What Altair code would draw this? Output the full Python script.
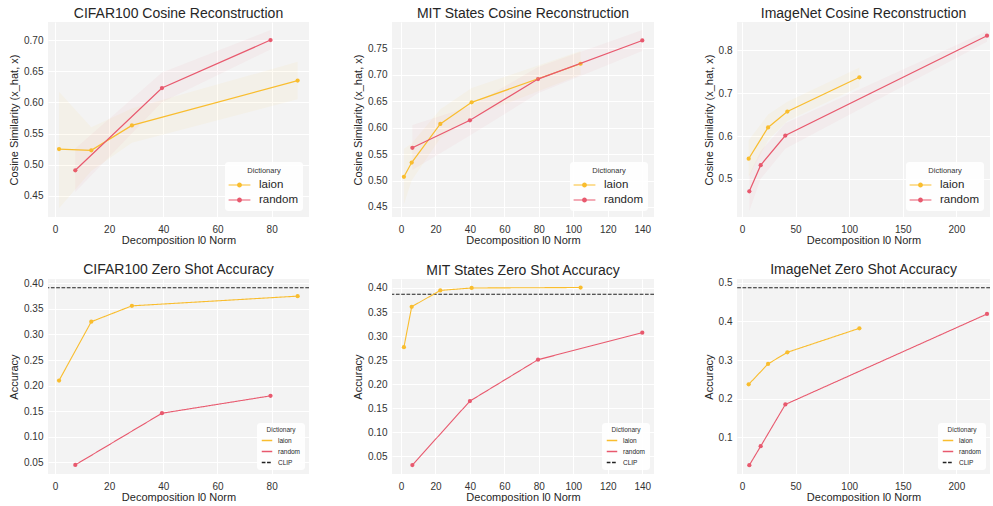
import altair as alt
import pandas as pd

LAION = "#F9BD2E"
RANDOM = "#E8596E"
CLIP = "#222222"
BG = "#F3F3F3"
FONT = "Liberation Sans"

# ---- CIFAR100 ----
cifar_laion_l0 = [1.5, 13.4, 28.4, 89.6]
cifar_laion_cos = [0.525, 0.523, 0.563, 0.635]
cifar_laion_cos_lo = [0.430, 0.490, 0.535, 0.605]
cifar_laion_cos_hi = [0.617, 0.560, 0.590, 0.665]
cifar_laion_acc = [0.210, 0.325, 0.356, 0.375]

cifar_random_l0 = [7.5, 39.5, 79.6]
cifar_random_cos = [0.491, 0.623, 0.700]
cifar_random_cos_lo = [0.456, 0.600, 0.685]
cifar_random_cos_hi = [0.526, 0.648, 0.716]
cifar_random_acc = [0.045, 0.146, 0.180]
cifar_clip_acc = 0.3915

# ---- MIT States ----
mit_laion_l0 = [1.7, 6.2, 22.8, 41.0, 104.2]
mit_laion_cos = [0.507, 0.534, 0.607, 0.648, 0.721]
mit_laion_cos_lo = [0.455, 0.500, 0.580, 0.620, 0.700]
mit_laion_cos_hi = [0.560, 0.570, 0.635, 0.675, 0.745]
mit_laion_acc = [0.277, 0.361, 0.395, 0.400, 0.401]

mit_random_l0 = [6.6, 40.0, 79.5, 140.0]
mit_random_cos = [0.562, 0.614, 0.692, 0.765]
mit_random_cos_lo = [0.520, 0.585, 0.665, 0.745]
mit_random_cos_hi = [0.605, 0.640, 0.715, 0.785]
mit_random_acc = [0.032, 0.165, 0.251, 0.307]
mit_clip_acc = 0.387

# ---- ImageNet ----
imnet_laion_l0 = [6.2, 24.3, 42.3, 109.5]
imnet_laion_cos = [0.547, 0.620, 0.657, 0.737]
imnet_laion_cos_lo = [0.505, 0.590, 0.635, 0.715]
imnet_laion_cos_hi = [0.590, 0.650, 0.680, 0.760]
imnet_laion_acc = [0.237, 0.290, 0.320, 0.382]

imnet_random_l0 = [6.8, 17.4, 40.4, 228.6]
imnet_random_cos = [0.471, 0.532, 0.601, 0.834]
imnet_random_cos_lo = [0.425, 0.500, 0.570, 0.820]
imnet_random_cos_hi = [0.510, 0.565, 0.630, 0.845]
imnet_random_acc = [0.028, 0.077, 0.185, 0.419]
imnet_clip_acc = 0.487

X_TITLE = "Decomposition l0 Norm"

# custom legend glyph: a short line with a dot in the middle (both filled shapes)
LINE_DOT = ("M-1.2,-0.06H1.2V0.06H-1.2Z "
            "M-0.27,0A0.27,0.27 0 1,1 0.27,0A0.27,0.27 0 1,1 -0.27,0Z")


def series_frame(name, l0, val, lo=None, hi=None):
    d = {"Dictionary": name, "l0": l0, "v": val}
    if lo is not None:
        d["lo"] = lo
        d["hi"] = hi
    return pd.DataFrame(d)


def title(text):
    return alt.TitleParams(text, fontSize=14, font=FONT, fontWeight="normal",
                           color="#262626", offset=1)


def x_enc(dom, ticks):
    return alt.X("l0:Q", scale=alt.Scale(domain=dom, nice=False, zero=False),
                 axis=alt.Axis(values=ticks, title=X_TITLE, format="d",
                               labelPadding=7, titlePadding=0, labelOverlap=False))


def y_axis(ticks, fmt, text):
    return alt.Axis(values=ticks, format=fmt, title=text, labelOverlap=False,
                    labelPadding=5, titlePadding=4)


def cosine_panel(name, x_dom, x_ticks, y_dom, y_ticks, y_fmt, width, laion, random):
    df = pd.concat([series_frame("laion", *laion), series_frame("random", *random)])
    x = x_enc(x_dom, x_ticks)
    yscale = alt.Scale(domain=y_dom, nice=False, zero=False)
    yaxis = y_axis(y_ticks, y_fmt, "Cosine Similarity (x_hat, x)")
    y = alt.Y("v:Q", scale=yscale, axis=yaxis)
    cscale = alt.Scale(domain=["laion", "random"], range=[LAION, RANDOM])
    base = alt.Chart(df)
    pts = base.mark_point(filled=True, size=18, opacity=1).encode(
        x=x, y=y,
        color=alt.Color("Dictionary:N", scale=cscale, legend=alt.Legend(
            title="Dictionary", orient="bottom-right", offset=6, padding=5,
            fillColor="rgba(255,255,255,0.85)", cornerRadius=3,
            symbolType=LINE_DOT, symbolSize=330, symbolStrokeWidth=0,
            labelFontSize=11.5, labelFont=FONT, labelColor="#262626",
            titleFontSize=7.5, titleFont=FONT, titleFontWeight="normal",
            titleColor="#333333", titleAnchor="middle", titlePadding=1,
            labelOffset=10, rowPadding=0)))
    band = base.mark_area(opacity=0.05).encode(
        x=x, y=alt.Y("lo:Q", scale=yscale, axis=yaxis), y2="hi:Q",
        color=alt.Color("Dictionary:N", scale=cscale, legend=None))
    line = base.mark_line(strokeWidth=1.2).encode(
        x=x, y=y, color=alt.Color("Dictionary:N", scale=cscale, legend=None))
    return alt.layer(pts, band, line).properties(width=width, height=195,
                                                 title=title(name))


def accuracy_panel(name, x_dom, x_ticks, y_dom, y_ticks, y_fmt, width, laion, random, clip):
    df = pd.concat([series_frame("laion", *laion), series_frame("random", *random)])
    cdf = pd.DataFrame({"Dictionary": ["CLIP"], "v": [clip]})
    x = x_enc(x_dom, x_ticks)
    y = alt.Y("v:Q", scale=alt.Scale(domain=y_dom, nice=False, zero=False),
              axis=y_axis(y_ticks, y_fmt, "Accuracy"))
    dom = ["laion", "random", "CLIP"]
    cscale = alt.Scale(domain=dom, range=[LAION, RANDOM, CLIP])
    dscale = alt.Scale(domain=dom, range=[[1, 0], [1, 0], [3.7, 1.6]])
    leg = alt.Legend(
        title="Dictionary", orient="bottom-right", offset=4, padding=4,
        fillColor="rgba(255,255,255,0.85)", cornerRadius=3,
        symbolType="stroke", symbolSize=110, symbolStrokeWidth=1.5,
        labelFontSize=6.5, labelFont=FONT, labelColor="#262626",
        titleFontSize=6.5, titleFont=FONT, titleFontWeight="normal",
        titleColor="#333333", titleAnchor="middle", titlePadding=1,
        labelOffset=5, rowPadding=1)
    rule = alt.Chart(cdf).mark_rule(strokeWidth=1.1).encode(
        y=y,
        color=alt.Color("Dictionary:N", scale=cscale, legend=leg),
        strokeDash=alt.StrokeDash("Dictionary:N", scale=dscale, legend=leg))
    line = alt.Chart(df).mark_line(strokeWidth=1.1).encode(
        x=x, y=y,
        color=alt.Color("Dictionary:N", scale=cscale, legend=leg),
        strokeDash=alt.StrokeDash("Dictionary:N", scale=dscale, legend=leg))
    pts = alt.Chart(df).mark_point(filled=True, size=18, opacity=1).encode(
        x=x, y=y, color=alt.Color("Dictionary:N", scale=cscale, legend=None))
    return alt.layer(rule, line, pts).properties(width=width, height=195,
                                                 title=title(name))


X1, X1T = [-2.58, 93.8], [0, 20, 40, 60, 80]
X2, X2T = [-5.22, 146.8], [0, 20, 40, 60, 80, 100, 120, 140]
X3, X3T = [-4.7, 231.4], [0, 50, 100, 150, 200]

panels = [
    cosine_panel("CIFAR100 Cosine Reconstruction", X1, X1T, [0.416, 0.729],
                 [0.45, 0.50, 0.55, 0.60, 0.65, 0.70], ".2f", 261,
                 (cifar_laion_l0, cifar_laion_cos, cifar_laion_cos_lo, cifar_laion_cos_hi),
                 (cifar_random_l0, cifar_random_cos, cifar_random_cos_lo, cifar_random_cos_hi)),
    cosine_panel("MIT States Cosine Reconstruction", X2, X2T, [0.431, 0.800],
                 [0.45, 0.50, 0.55, 0.60, 0.65, 0.70, 0.75], ".2f", 262,
                 (mit_laion_l0, mit_laion_cos, mit_laion_cos_lo, mit_laion_cos_hi),
                 (mit_random_l0, mit_random_cos, mit_random_cos_lo, mit_random_cos_hi)),
    cosine_panel("ImageNet Cosine Reconstruction", X3, X3T, [0.411, 0.866],
                 [0.5, 0.6, 0.7, 0.8], ".1f", 253,
                 (imnet_laion_l0, imnet_laion_cos, imnet_laion_cos_lo, imnet_laion_cos_hi),
                 (imnet_random_l0, imnet_random_cos, imnet_random_cos_lo, imnet_random_cos_hi)),
    accuracy_panel("CIFAR100 Zero Shot Accuracy", X1, X1T, [0.0272, 0.4085],
                   [0.05, 0.10, 0.15, 0.20, 0.25, 0.30, 0.35, 0.40], ".2f", 261,
                   (cifar_laion_l0, cifar_laion_acc), (cifar_random_l0, cifar_random_acc),
                   cifar_clip_acc),
    accuracy_panel("MIT States Zero Shot Accuracy", X2, X2T, [0.0133, 0.4187],
                   [0.05, 0.10, 0.15, 0.20, 0.25, 0.30, 0.35, 0.40], ".2f", 262,
                   (mit_laion_l0, mit_laion_acc), (mit_random_l0, mit_random_acc),
                   mit_clip_acc),
    accuracy_panel("ImageNet Zero Shot Accuracy", X3, X3T, [0.0052, 0.5095],
                   [0.1, 0.2, 0.3, 0.4, 0.5], ".1f", 253,
                   (imnet_laion_l0, imnet_laion_acc), (imnet_random_l0, imnet_random_acc),
                   imnet_clip_acc),
]

chart = alt.concat(
    *panels, columns=3, spacing={"row": 62, "column": 83}, bounds="flush"
).resolve_scale(
    color="independent", strokeDash="independent", x="independent", y="independent"
).resolve_legend(color="independent", strokeDash="independent").properties(
    padding={"left": 8, "top": 7, "right": 0, "bottom": 0},
    background="white",
).configure_view(fill=BG, stroke=None).configure_axis(
    labelFont=FONT, labelFontSize=10, labelColor="#333333",
    labelBound=False, labelFlush=False,
    titleFont=FONT, titleFontSize=11, titleFontWeight="normal", titleColor="#262626",
    ticks=False, domain=False, grid=True, gridColor="white",
    gridWidth=1, gridOpacity=1,
)

chart.save("out.html", embed_options={"renderer": "svg", "actions": False})
